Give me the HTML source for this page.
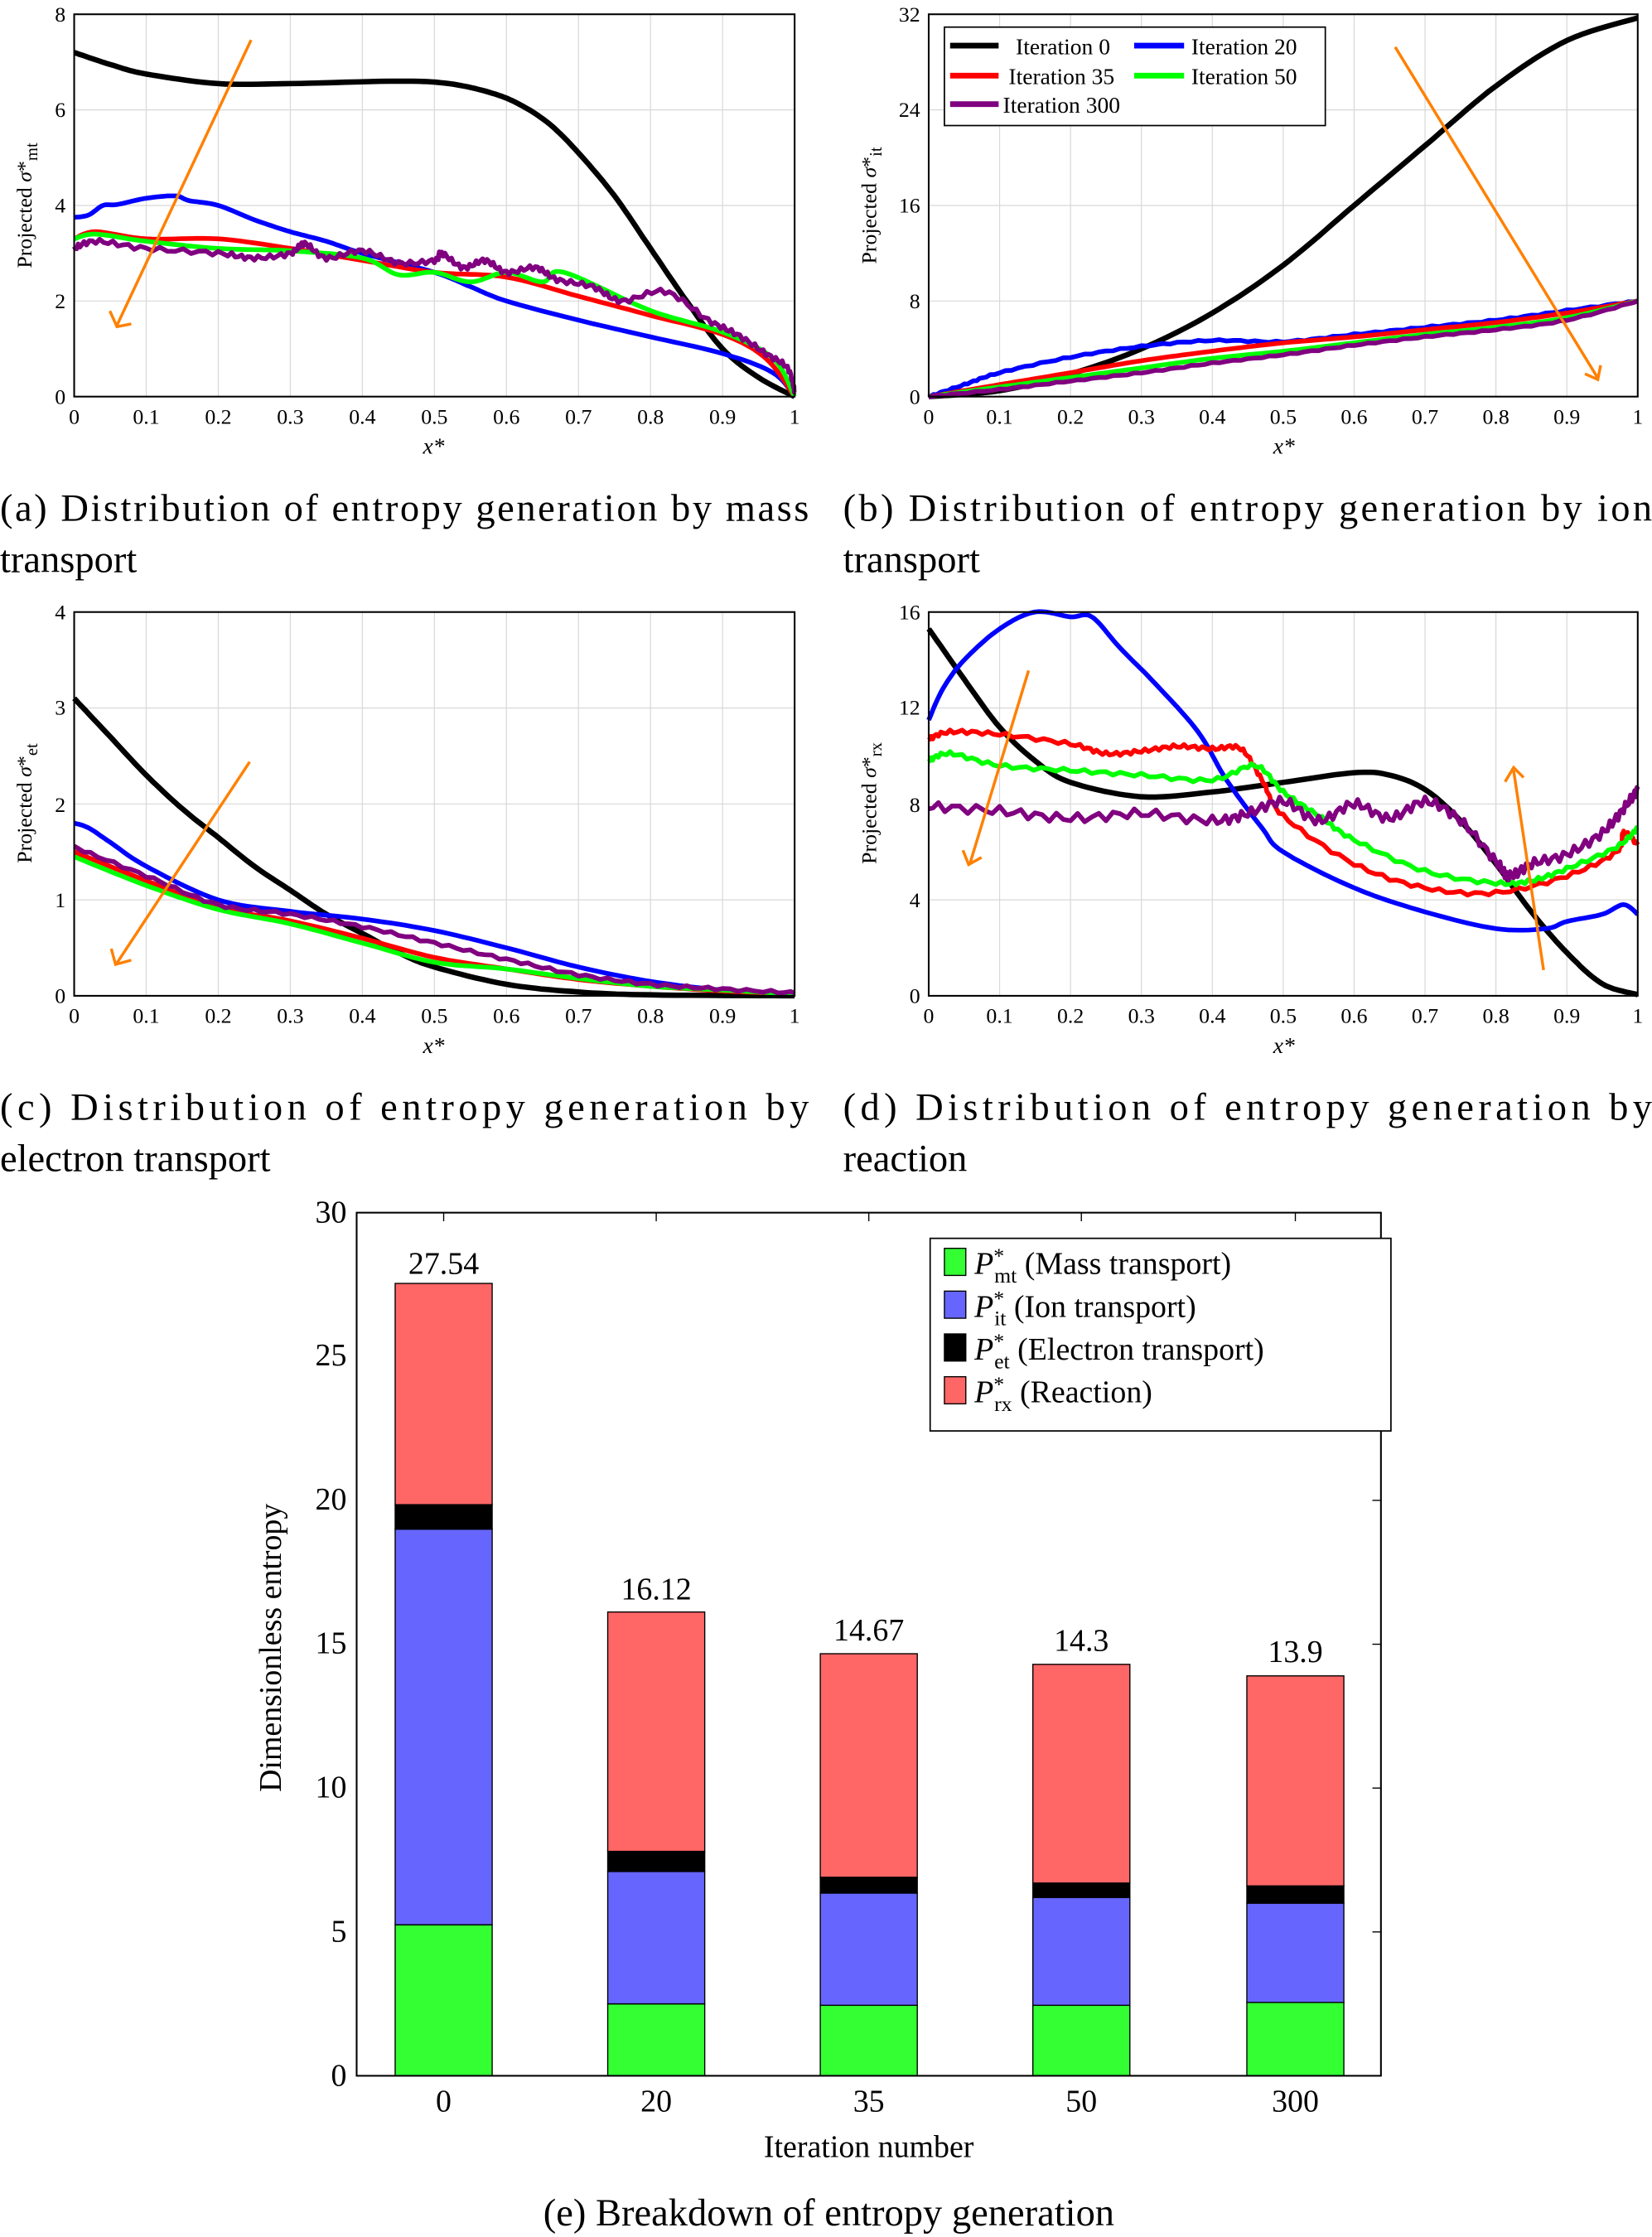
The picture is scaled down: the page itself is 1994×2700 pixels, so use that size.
<!DOCTYPE html>
<html><head><meta charset="utf-8"><style>
html,body{margin:0;padding:0;background:#fff;}
svg{display:block;font-family:"Liberation Serif",serif;}
</style></head><body>
<svg id="s" width="1994" height="2700" viewBox="0 0 1158 1568" xmlns="http://www.w3.org/2000/svg">
<rect width="1158" height="1568" fill="#fff"/>
<g id="grids"></g>
<g id="curves"></g>
<g id="frames" fill="none" stroke="#000" stroke-width="1.2">
<rect x="52" y="10" width="505" height="268"/>
<rect x="651" y="10" width="497" height="268"/>
<rect x="52" y="429" width="505" height="269"/>
<rect x="651" y="429" width="497" height="269"/>
</g>
<g font-size="15" text-anchor="end">
<text x="46" y="283">0</text><text x="46" y="216">2</text><text x="46" y="149">4</text><text x="46" y="82">6</text><text x="46" y="15">8</text>
<text x="645" y="283">0</text><text x="645" y="216">8</text><text x="645" y="149">16</text><text x="645" y="82">24</text><text x="645" y="15">32</text>
<text x="46" y="703">0</text><text x="46" y="636">1</text><text x="46" y="569">2</text><text x="46" y="501">3</text><text x="46" y="434">4</text>
<text x="645" y="703">0</text><text x="645" y="636">4</text><text x="645" y="569">8</text><text x="645" y="501">12</text><text x="645" y="434">16</text>
</g>
<g font-size="16" font-style="italic" text-anchor="middle">
<text x="304" y="318">x*</text><text x="900" y="318">x*</text>
<text x="304" y="738">x*</text><text x="900" y="738">x*</text>
</g>
<g font-size="15" text-anchor="middle">
<text transform="translate(22,144) rotate(-90)">Projected <tspan font-style="italic">σ</tspan>*<tspan font-size="12" dy="4">mt</tspan></text>
<text transform="translate(614,144) rotate(-90)">Projected <tspan font-style="italic">σ</tspan>*<tspan font-size="12" dy="4">it</tspan></text>
<text transform="translate(22,563) rotate(-90)">Projected <tspan font-style="italic">σ</tspan>*<tspan font-size="12" dy="4">et</tspan></text>
<text transform="translate(614,563) rotate(-90)">Projected <tspan font-style="italic">σ</tspan>*<tspan font-size="12" dy="4">rx</tspan></text>
</g>
<!-- legend b -->
<rect x="662" y="19" width="267" height="69" fill="#fff" stroke="#000" stroke-width="1"/>
<g stroke-width="4">
<line x1="666" y1="32" x2="700" y2="32" stroke="#000"/>
<line x1="795" y1="32" x2="830" y2="32" stroke="#00f"/>
<line x1="666" y1="53" x2="700" y2="53" stroke="#f00"/>
<line x1="795" y1="53" x2="830" y2="53" stroke="#0f0"/>
<line x1="666" y1="73" x2="700" y2="73" stroke="#800080"/>
</g>
<g font-size="16">
<text x="712" y="38">Iteration 0</text><text x="835" y="38">Iteration 20</text>
<text x="707" y="59">Iteration 35</text><text x="835" y="59">Iteration 50</text>
<text x="703" y="79">Iteration 300</text>
</g>
<!-- captions -->
<g font-size="27">
<text x="0" y="365" textLength="567" lengthAdjust="spacing">(a) Distribution of entropy generation by mass</text>
<text x="0" y="401">transport</text>
<text x="591" y="365" textLength="567" lengthAdjust="spacing">(b) Distribution of entropy generation by ion</text>
<text x="591" y="401">transport</text>
<text x="0" y="785" textLength="567" lengthAdjust="spacing">(c) Distribution of entropy generation by</text>
<text x="0" y="821">electron transport</text>
<text x="591" y="785" textLength="567" lengthAdjust="spacing">(d) Distribution of entropy generation by</text>
<text x="591" y="821">reaction</text>
<text x="581" y="1560" text-anchor="middle">(e) Breakdown of entropy generation</text>
</g>
<!-- bar chart -->
<g id="bars"></g>
<rect x="250" y="850" width="718" height="605" fill="none" stroke="#000" stroke-width="1.2"/>
<g font-size="22" text-anchor="end">
<text x="243" y="1462">0</text><text x="243" y="1361">5</text><text x="243" y="1260">10</text><text x="243" y="1159">15</text><text x="243" y="1058">20</text><text x="243" y="957">25</text><text x="243" y="857">30</text>
</g>
<g font-size="22" text-anchor="middle">
<text x="311" y="1480">0</text><text x="460" y="1480">20</text><text x="609" y="1480">35</text><text x="758" y="1480">50</text><text x="908" y="1480">300</text>
<text x="609" y="1512">Iteration number</text>
<text transform="translate(197,1155) rotate(-90)">Dimensionless entropy</text>
<text x="311" y="893">27.54</text><text x="460" y="1121">16.12</text><text x="609" y="1150">14.67</text><text x="758" y="1157">14.3</text><text x="908" y="1165">13.9</text>
</g>
<rect x="652" y="868" width="323" height="135" fill="#fff" stroke="#000" stroke-width="1"/>
<g stroke="#000" stroke-width="0.8">
<rect x="662" y="875" width="15" height="19" fill="#33ff33"/>
<rect x="662" y="905" width="15" height="19" fill="#6666ff"/>
<rect x="662" y="935" width="15" height="19" fill="#000"/>
<rect x="662" y="965" width="15" height="19" fill="#ff6666"/>
</g>
<g font-size="22">
<text x="683" y="893"><tspan font-style="italic">P</tspan><tspan font-size="15" dy="-8">*</tspan><tspan font-size="15" dx="-7" dy="14">mt</tspan><tspan dy="-6"> (Mass transport)</tspan></text>
<text x="683" y="923"><tspan font-style="italic">P</tspan><tspan font-size="15" dy="-8">*</tspan><tspan font-size="15" dx="-7" dy="14">it</tspan><tspan dy="-6"> (Ion transport)</tspan></text>
<text x="683" y="953"><tspan font-style="italic">P</tspan><tspan font-size="15" dy="-8">*</tspan><tspan font-size="15" dx="-7" dy="14">et</tspan><tspan dy="-6"> (Electron transport)</tspan></text>
<text x="683" y="983"><tspan font-style="italic">P</tspan><tspan font-size="15" dy="-8">*</tspan><tspan font-size="15" dx="-7" dy="14">rx</tspan><tspan dy="-6"> (Reaction)</tspan></text>
</g>
<g id="arrows" stroke="#ff8000" stroke-width="2" fill="none">
<line x1="176" y1="28" x2="82" y2="228"/><path d="M77 218 L82 229 L92 227"/>
<line x1="978" y1="33" x2="1120" y2="265"/><path d="M1111 262 L1120 266 L1122 256"/>
<line x1="175" y1="534" x2="82" y2="675"/><path d="M78 665 L81 676 L92 673"/>
<line x1="721" y1="470" x2="680" y2="605"/><path d="M675 596 L679 606 L688 601"/>
<line x1="1082" y1="680" x2="1061" y2="540"/><path d="M1055 548 L1061 538 L1068 545"/>
</g>
<g id="xlab" font-size="15" text-anchor="middle">
<text x="52" y="297">0</text><text x="102.5" y="297">0.1</text><text x="153" y="297">0.2</text><text x="203.5" y="297">0.3</text><text x="254" y="297">0.4</text><text x="304.5" y="297">0.5</text><text x="355" y="297">0.6</text><text x="405.5" y="297">0.7</text><text x="456" y="297">0.8</text><text x="506.5" y="297">0.9</text><text x="557" y="297">1</text>
<text x="651" y="297">0</text><text x="700.7" y="297">0.1</text><text x="750.4" y="297">0.2</text><text x="800.1" y="297">0.3</text><text x="849.8" y="297">0.4</text><text x="899.5" y="297">0.5</text><text x="949.2" y="297">0.6</text><text x="998.9" y="297">0.7</text><text x="1048.6" y="297">0.8</text><text x="1098.3" y="297">0.9</text><text x="1148" y="297">1</text>
<text x="52" y="717">0</text><text x="102.5" y="717">0.1</text><text x="153" y="717">0.2</text><text x="203.5" y="717">0.3</text><text x="254" y="717">0.4</text><text x="304.5" y="717">0.5</text><text x="355" y="717">0.6</text><text x="405.5" y="717">0.7</text><text x="456" y="717">0.8</text><text x="506.5" y="717">0.9</text><text x="557" y="717">1</text>
<text x="651" y="717">0</text><text x="700.7" y="717">0.1</text><text x="750.4" y="717">0.2</text><text x="800.1" y="717">0.3</text><text x="849.8" y="717">0.4</text><text x="899.5" y="717">0.5</text><text x="949.2" y="717">0.6</text><text x="998.9" y="717">0.7</text><text x="1048.6" y="717">0.8</text><text x="1098.3" y="717">0.9</text><text x="1148" y="717">1</text>
</g>
</svg>
<script>
var NS="http://www.w3.org/2000/svg";
function el(p,t,a){var e=document.createElementNS(NS,t);for(var k in a)e.setAttribute(k,a[k]);p.appendChild(e);return e;}
var G=document.getElementById("grids"),C=document.getElementById("curves"),B=document.getElementById("bars");
var P=[{x:52,w:505,y:10,h:268,m:8,ny:4},{x:651,w:497,y:10,h:268,m:32,ny:4},{x:52,w:505,y:429,h:269,m:4,ny:4},{x:651,w:497,y:429,h:269,m:16,ny:4}];
P.forEach(function(p){for(var i=1;i<10;i++){var x=p.x+p.w*i/10;el(G,"line",{x1:x,x2:x,y1:p.y,y2:p.y+p.h,stroke:"#d8d8d8","stroke-width":0.7});}
for(var j=1;j<p.ny;j++){var y=p.y+p.h*j/p.ny;el(G,"line",{x1:p.x,x2:p.x+p.w,y1:y,y2:y,stroke:"#d8d8d8","stroke-width":0.7});}});
function jit(pts,a,seed){var out=[];var n=10,N=pts.length;
for(var i=0;i<N-1;i++){var p0=pts[Math.max(0,i-1)],p1=pts[i],p2=pts[i+1],p3=pts[Math.min(N-1,i+2)];
for(var k=0;k<n;k++){var t=k/n,t2=t*t,t3=t2*t;
var f=function(a0,a1,a2,a3){return 0.5*((2*a1)+(-a0+a2)*t+(2*a0-5*a1+4*a2-a3)*t2+(-a0+3*a1-3*a2+a3)*t3);};
var x=f(p0[0],p1[0],p2[0],p3[0]),v=f(p0[1],p1[1],p2[1],p3[1]);
if(a)v+=a*Math.sin((i*n+k)*2.3+seed);out.push([x,v]);}}
out.push(pts[N-1]);return out;}
function draw(pi,pts,col,a,w){var p=P[pi];var d="";var q=jit(pts,a||0,pi*3+1);q.forEach(function(r,i){var x=p.x+r[0]*p.w,y=p.y+p.h-r[1]/p.m*p.h;d+=(i?"L":"M")+x.toFixed(1)+" "+y.toFixed(1);});el(C,"path",{d:d,fill:"none",stroke:col,"stroke-width":w||3.3,"stroke-linejoin":"round"});}
var K="#000",BL="#00f",R="#f00",GR="#0f0",PU="#800080";
// a
draw(0,[[0,7.2],[0.05,6.95],[0.1,6.75],[0.2,6.55],[0.3,6.55],[0.45,6.6],[0.52,6.55],[0.58,6.35],[0.62,6.1],[0.66,5.7],[0.7,5.1],[0.75,4.2],[0.8,3.1],[0.85,2.0],[0.9,1.0],[0.95,0.4],[1,0]],K,0,3.8);
draw(0,[[0,3.75],[0.02,3.8],[0.04,4.0],[0.06,4.02],[0.1,4.15],[0.14,4.2],[0.16,4.1],[0.2,4.0],[0.25,3.7],[0.3,3.45],[0.35,3.25],[0.4,3.0],[0.5,2.6],[0.55,2.3],[0.6,2.0],[0.7,1.6],[0.8,1.25],[0.9,0.9],[0.97,0.5],[1,0]],BL);
draw(0,[[0,3.3],[0.03,3.45],[0.1,3.3],[0.2,3.3],[0.3,3.1],[0.4,2.85],[0.5,2.6],[0.6,2.5],[0.7,2.1],[0.8,1.7],[0.9,1.3],[0.96,0.8],[1,0]],R);
draw(0,[[0,3.3],[0.03,3.4],[0.1,3.25],[0.2,3.1],[0.3,3.05],[0.4,2.9],[0.45,2.55],[0.5,2.6],[0.55,2.4],[0.6,2.6],[0.65,2.4],[0.68,2.6],[0.8,1.8],[0.9,1.35],[0.97,0.8],[1,0]],GR);
draw(0,[[0,3.1],[0.03,3.25],[0.1,3.1],[0.2,3.0],[0.25,2.9],[0.3,3.0],[0.32,3.2],[0.35,2.9],[0.4,3.05],[0.45,2.8],[0.5,2.85],[0.51,3.0],[0.54,2.7],[0.57,2.85],[0.6,2.6],[0.64,2.7],[0.67,2.45],[0.72,2.3],[0.76,2.0],[0.82,2.2],[0.88,1.6],[0.92,1.3],[0.96,0.9],[0.99,0.6],[1,0.1]],PU,0.05);
// b
draw(1,[[0,0],[0.1,0.5],[0.2,1.9],[0.3,4],[0.4,7],[0.5,11],[0.6,16],[0.7,21],[0.8,26],[0.9,29.8],[1,31.7]],K,0,3.8);
draw(1,[[0,0],[0.05,1],[0.1,2],[0.2,3.3],[0.3,4.2],[0.4,4.7],[0.5,4.6],[0.6,5.2],[0.7,5.8],[0.8,6.4],[0.9,7.2],[1,8]],BL,0.06);
draw(1,[[0,0],[0.1,1],[0.2,2],[0.3,3],[0.4,3.8],[0.5,4.5],[0.6,5],[0.7,5.6],[0.8,6.2],[0.9,7],[1,8]],R);
draw(1,[[0,0],[0.1,0.8],[0.2,1.6],[0.3,2.4],[0.4,3.2],[0.5,3.8],[0.6,4.5],[0.7,5.2],[0.8,5.8],[0.9,6.6],[1,8]],GR);
draw(1,[[0,0],[0.1,0.6],[0.2,1.3],[0.3,2],[0.4,2.8],[0.5,3.5],[0.6,4.3],[0.7,5],[0.8,5.6],[0.9,6.4],[1,8]],PU,0.05);
// c
draw(2,[[0,3.1],[0.05,2.7],[0.1,2.3],[0.15,1.95],[0.2,1.65],[0.25,1.35],[0.3,1.1],[0.35,0.85],[0.4,0.65],[0.45,0.45],[0.5,0.3],[0.6,0.12],[0.7,0.04],[0.8,0.01],[1,0]],K,0,3.8);
draw(2,[[0,1.8],[0.02,1.75],[0.05,1.6],[0.1,1.35],[0.2,1.0],[0.3,0.88],[0.4,0.8],[0.5,0.68],[0.6,0.5],[0.7,0.3],[0.8,0.15],[0.9,0.06],[1,0.02]],BL);
draw(2,[[0,1.5],[0.1,1.2],[0.2,0.92],[0.3,0.78],[0.4,0.6],[0.5,0.4],[0.6,0.28],[0.7,0.17],[0.8,0.1],[0.9,0.05],[1,0.02]],R);
draw(2,[[0,1.45],[0.1,1.15],[0.2,0.9],[0.3,0.75],[0.4,0.55],[0.5,0.35],[0.6,0.28],[0.7,0.18],[0.8,0.1],[0.9,0.06],[1,0.02]],GR);
draw(2,[[0,1.55],[0.1,1.25],[0.2,0.95],[0.3,0.85],[0.4,0.72],[0.5,0.55],[0.6,0.38],[0.7,0.22],[0.8,0.12],[0.9,0.07],[1,0.03]],PU,0.015);
// d
draw(3,[[0,15.3],[0.05,13.2],[0.1,11.2],[0.15,9.8],[0.2,8.9],[0.3,8.3],[0.4,8.5],[0.5,8.9],[0.6,9.3],[0.65,9.2],[0.7,8.6],[0.75,7.3],[0.8,5.5],[0.85,3.5],[0.9,1.8],[0.95,0.5],[1,0.05]],K,0,3.8);
draw(3,[[0,11.5],[0.02,12.8],[0.05,14],[0.1,15.3],[0.15,16],[0.2,15.8],[0.23,15.8],[0.27,14.5],[0.32,13],[0.38,11],[0.42,9],[0.47,7],[0.5,6],[0.6,4.5],[0.7,3.5],[0.8,2.8],[0.87,2.8],[0.9,3.1],[0.95,3.4],[0.98,3.8],[1,3.4]],BL);
draw(3,[[0,10.7],[0.03,11],[0.1,10.9],[0.2,10.5],[0.25,10.1],[0.3,10.2],[0.35,10.4],[0.4,10.3],[0.44,10.3],[0.47,9],[0.5,7.5],[0.6,5.5],[0.7,4.5],[0.8,4.3],[0.9,5],[0.97,6],[0.98,6.8],[1,6.3]],R,0.08);
draw(3,[[0,9.8],[0.03,10.1],[0.1,9.6],[0.2,9.4],[0.3,9.2],[0.4,9.0],[0.46,9.6],[0.5,8.5],[0.55,7.5],[0.6,6.5],[0.7,5.2],[0.8,4.7],[0.85,4.8],[0.9,5.3],[0.97,6.2],[1,7.0]],GR,0.08);
draw(3,[[0,7.9],[0.1,7.7],[0.2,7.4],[0.3,7.6],[0.4,7.3],[0.45,7.6],[0.5,8.1],[0.55,7.3],[0.6,8.0],[0.65,7.4],[0.7,8.1],[0.75,7.3],[0.8,5.6],[0.82,5.0],[0.85,5.5],[0.9,5.9],[0.95,6.8],[0.98,7.8],[1,8.6]],PU,0.2);
// bars
var S=605/30,base=1455;
var D=[[311,5.25,19.0,19.85,27.54],[460,2.5,7.1,7.8,16.12],[609,2.45,6.35,6.9,14.67],[758,2.45,6.2,6.7,14.3],[908,2.55,6.0,6.6,13.9]];
var cols=["#33ff33","#6666ff","#000","#ff6666"];
D.forEach(function(d){var prev=0;for(var i=0;i<4;i++){var v=d[i+1];el(B,"rect",{x:d[0]-34,y:base-v*S,width:68,height:(v-prev)*S,fill:cols[i],stroke:"#000","stroke-width":0.8});prev=v;}
el(B,"line",{x1:d[0],x2:d[0],y1:850,y2:856,stroke:"#000","stroke-width":0.8});});
for(var k=1;k<6;k++){var y=base-k*5*S;el(B,"line",{x1:962,x2:968,y1:y,y2:y,stroke:"#000","stroke-width":0.8});}
</script>
</body></html>
